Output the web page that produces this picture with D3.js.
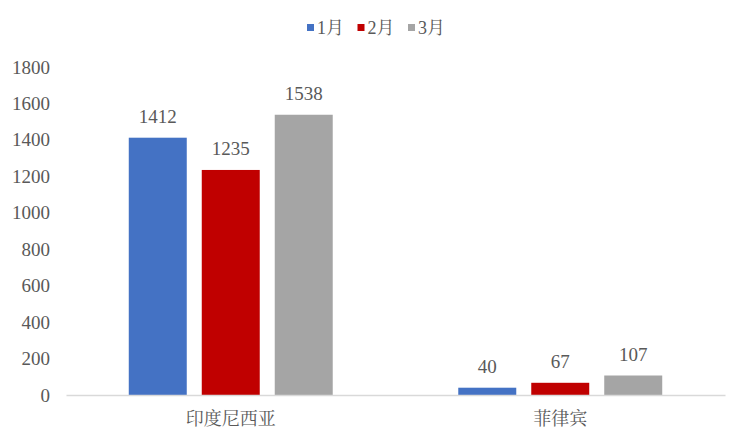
<!DOCTYPE html>
<html lang="zh">
<head>
    <meta charset="UTF-8">
    <title>bars</title>
    <script src="https://d3js.org/d3.v7.min.js"></script>
    <style>
        body { margin: 0; background: #fff; }
        text { font-family: "Liberation Serif", "Noto Serif CJK SC", "Noto Sans CJK SC", serif; fill: #595959; }
    </style>
</head>
<body>
<div id="figure" style="width: 748px; height: 444px"></div>
<script>
    // data
    let categories = ["印度尼西亚", "菲律宾"];
    let series = ["1月", "2月", "3月"];
    let jan = [1412, 40];
    let feb = [1235, 67];
    let mar = [1538, 107];
    let yTicks = [0, 200, 400, 600, 800, 1000, 1200, 1400, 1600, 1800];
    let colors = ["#4472C4", "#C00000", "#A5A5A5"];

    let values = [jan, feb, mar];
    let w = 748, h = 444;
    let padLeft = 66, padRight = 725, padTop = 67, padBottom = 395;

    let svg = d3.select("#figure").append("svg")
        .attr("width", w)
        .attr("height", h);

    let x0 = d3.scaleBand()
        .domain(categories)
        .range([padLeft, padRight])
        .paddingInner(0.381)
        .paddingOuter(0.1905);
    let x1 = d3.scaleBand()
        .domain(series)
        .range([0, x0.bandwidth()])
        .paddingInner(0.2055)
        .paddingOuter(0);
    let y = d3.scaleLinear()
        .domain([0, 1800])
        .range([padBottom, padTop]);

    // y axis, labels only
    let yAxis = svg.append("g")
        .attr("transform", `translate(${padLeft},0)`)
        .call(d3.axisLeft(y).tickValues(yTicks).tickFormat(d3.format("d")).tickSize(0).tickPadding(16));
    yAxis.select(".domain").remove();
    yAxis.selectAll("text").style("font-size", "19px").style("fill", "#595959");

    // bars
    let rows = [];
    categories.forEach((c, i) => {
        series.forEach((s, k) => rows.push({cat: c, ser: s, v: values[k][i], k: k}));
    });
    let plot = svg.append("g");
    plot.selectAll("rect")
        .data(rows)
        .join("rect")
        .attr("x", d => x0(d.cat) + x1(d.ser))
        .attr("y", d => y(d.v))
        .attr("width", x1.bandwidth())
        .attr("height", d => y(0) - y(d.v))
        .attr("fill", d => colors[d.k]);

    plot.selectAll("text.lab")
        .data(rows)
        .join("text")
        .attr("class", "lab")
        .attr("x", d => x0(d.cat) + x1(d.ser) + x1.bandwidth() / 2)
        .attr("y", d => y(d.v) - 15)
        .attr("text-anchor", "middle")
        .style("font-size", "19px")
        .text(d => d.v);

    // x axis
    let xAxis = svg.append("g")
        .attr("transform", `translate(0,${padBottom})`)
        .call(d3.axisBottom(x0).tickSize(0).tickPadding(17).tickSizeOuter(0));
    xAxis.select(".domain").attr("stroke", "#D9D9D9").attr("stroke-width", 1.5);
    xAxis.selectAll("text").style("font-size", "18px").style("fill", "#595959");

    // legend
    let legend = svg.append("g")
        .attr("transform", "translate(307,24)");
    let item = legend.selectAll("g")
        .data(series)
        .join("g")
        .attr("transform", (d, i) => `translate(${i * 50.5},0)`);
    item.append("rect")
        .attr("width", 7)
        .attr("height", 7)
        .attr("fill", (d, i) => colors[i]);
    item.append("text")
        .attr("x", 10)
        .attr("y", 4)
        .attr("dy", "0.35em")
        .style("font-size", "18px")
        .text(d => d);
</script>
</body>
</html>
